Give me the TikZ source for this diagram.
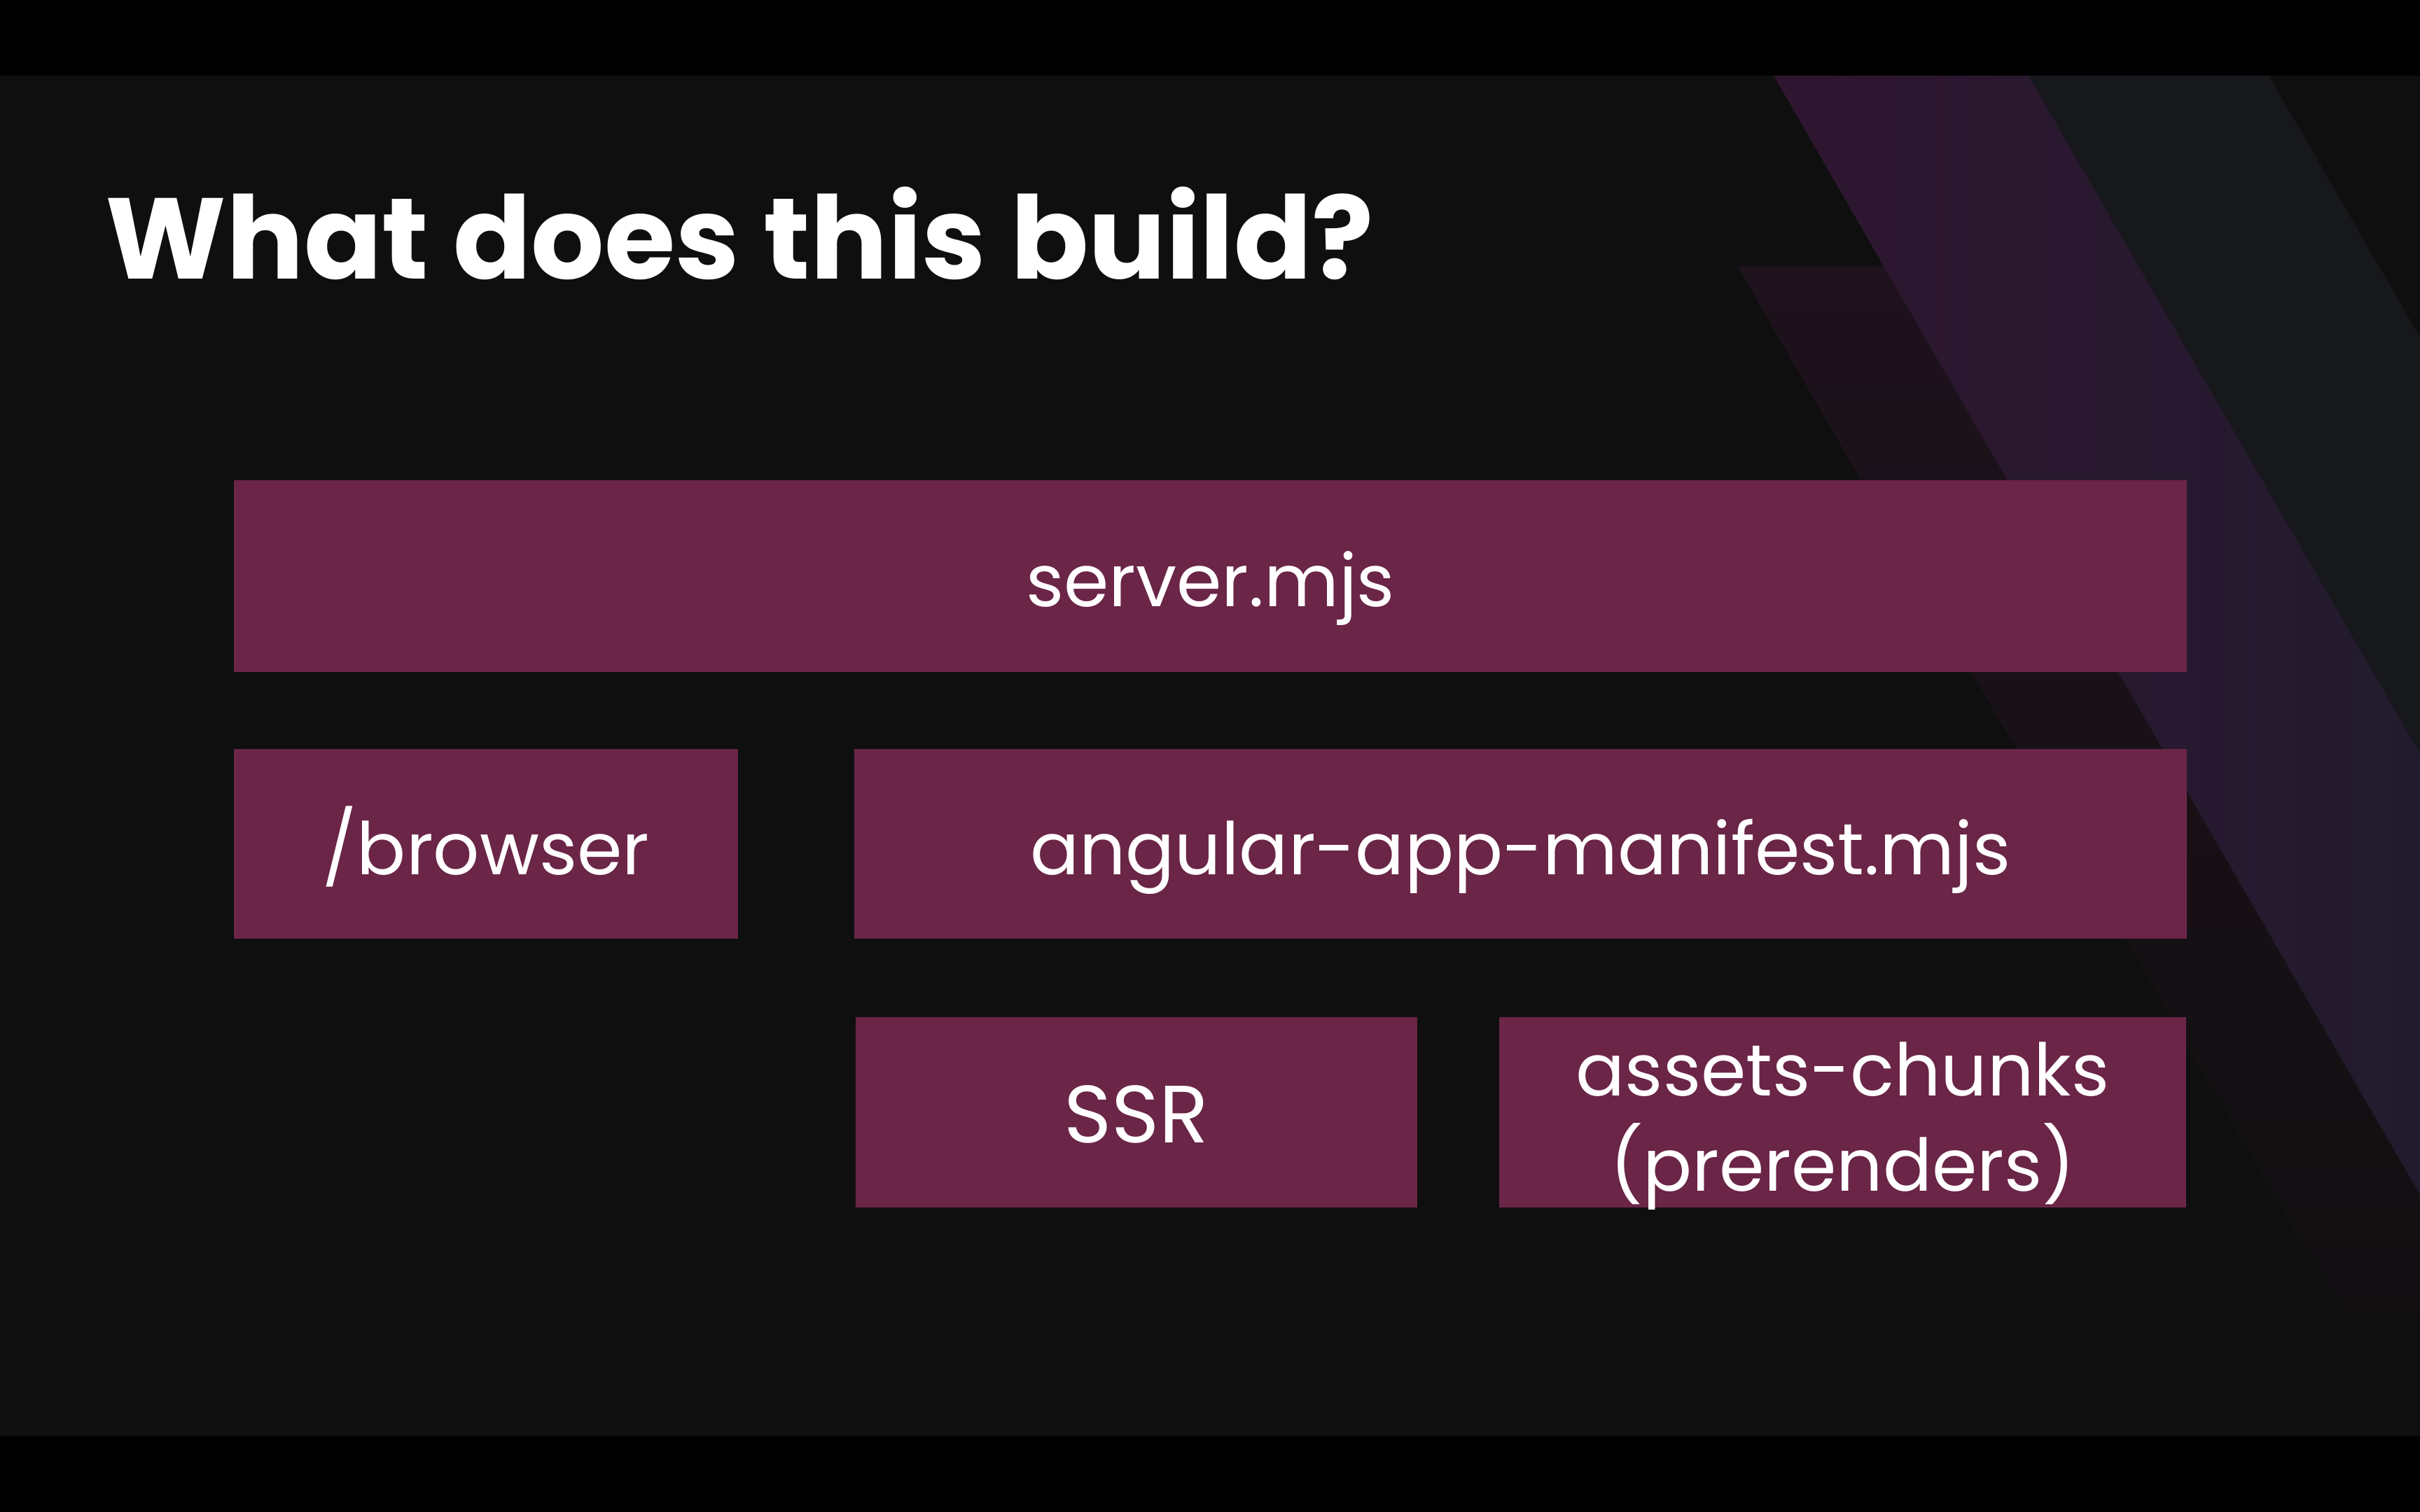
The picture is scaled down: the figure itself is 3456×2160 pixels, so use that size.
\documentclass[tikz,border=0pt]{standalone}
\usepackage{fontspec}
\setmainfont{Poppins}
\usetikzlibrary{positioning}
\definecolor{slide}{HTML}{0F0F0F}
\definecolor{slab}{HTML}{6A2547}
\definecolor{plumL}{HTML}{2F1630}
\definecolor{plumR}{HTML}{221B2E}
\definecolor{shadeT}{HTML}{1E121C}
\definecolor{greyband}{HTML}{17181B}
\tikzset{
  slabbox/.style={fill=slab, text=white, inner sep=0pt, anchor=north west,
    align=center, text height=1.0cm, text depth=0.12cm,
    font=\fontsize{29.5}{38.7}\selectfont},
}

\begin{document}
\begin{tikzpicture}[x=0.01cm,y=-0.01cm]
\useasboundingbox (0,0) rectangle (3456,2160);
\fill[black] (0,0) rectangle (3456,2160);
\fill[slide] (0,108) rectangle (3456,2051);
\begin{scope}
\clip (0,108) rectangle (3456,2051);
% diagonal bands, 60 degrees
\shade[top color=shadeT, bottom color=slide] (2481,380) -- (2690,380) -- (3456,1707) -- (3456,2051) -- (3445,2051) -- cycle;
\shade[left color=plumL, right color=plumR] (2533,108) -- (2897,108) -- (3456,1076) -- (3456,1707) -- cycle;
\fill[greyband] (2897,108) -- (3240,108) -- (3456,482) -- (3456,1076) -- cycle;
\end{scope}

\node[anchor=base west, inner sep=0pt, text=white, font=\fontsize{46.7}{50}\selectfont\bfseries] (title) at (150,398) {What does this build?};

\node[slabbox, minimum width=27.88cm, minimum height=2.74cm] (server) at (333,685) {server.mjs};
\node[slabbox, minimum width=7.20cm, minimum height=2.71cm] (browser) at (333,1069) {/browser};
\node[slabbox, minimum width=19.02cm, minimum height=2.71cm] (manifest) at (1219,1069) {angular-app-manifest.mjs};
\node[slabbox, minimum width=8.02cm, minimum height=2.72cm, font=\fontsize{33}{38.7}\selectfont] (ssr) at (1221,1452) {SSR};
\node[slabbox, minimum width=9.81cm, minimum height=2.72cm, text height=2.4cm, text depth=0.14cm] (assets) at (2140,1452) {assets-chunks\\(prerenders)};
\end{tikzpicture}
\end{document}
